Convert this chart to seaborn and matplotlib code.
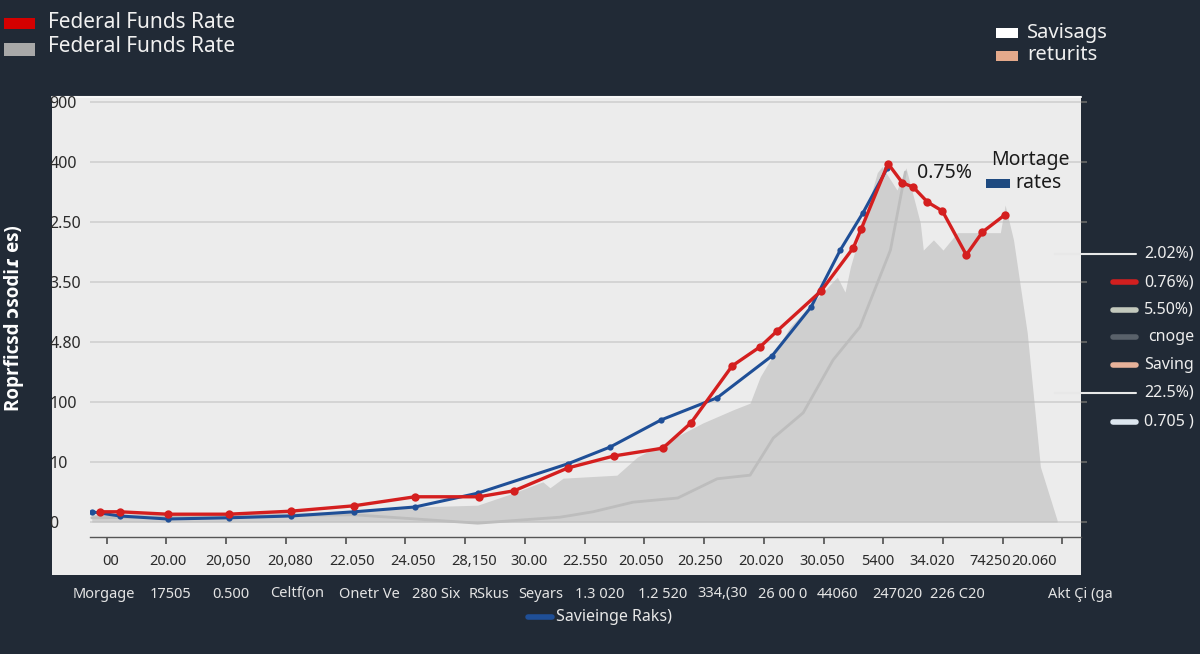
import numpy as np
import pandas as pd
import matplotlib
matplotlib.use("Agg")
import matplotlib.pyplot as plt
import matplotlib.transforms as mtransforms
from matplotlib.patches import Rectangle
from matplotlib.lines import Line2D
import seaborn as sns

# --- data (x = period index, y = tick step) ---
fed_x = [-0.12, 0.22, 1.02, 2.04, 3.08, 4.14, 5.16, 6.23, 6.82, 7.72, 8.49, 9.31, 9.78,
         10.47, 10.94, 11.22, 11.96, 12.50, 12.63, 13.08, 13.32, 13.50, 13.74, 13.99,
         14.39, 14.66, 15.04]
fed_y = [0.17, 0.17, 0.13, 0.13, 0.18, 0.27, 0.42, 0.42, 0.52, 0.90, 1.10, 1.23, 1.65,
         2.60, 2.92, 3.18, 3.85, 4.57, 4.88, 5.97, 5.65, 5.58, 5.33, 5.18,
         4.45, 4.83, 5.12]

mort_x = [-0.25, 0.22, 1.02, 2.04, 3.08, 4.14, 5.16, 6.21, 7.72, 8.43, 9.28, 10.22,
          11.14, 11.79, 12.28, 12.66, 13.07]
mort_y = [0.17, 0.10, 0.05, 0.07, 0.10, 0.17, 0.25, 0.48, 0.97, 1.25, 1.70, 2.07,
          2.77, 3.58, 4.53, 5.15, 5.90]

sav_x = [-0.25, 4.14, 5.16, 6.21, 6.80, 7.30, 7.42, 7.64, 8.54, 8.88, 9.98, 10.49,
         10.77, 10.94, 11.44, 12.23, 12.36, 12.45, 12.90, 12.98, 13.23, 13.38, 13.62,
         13.67, 13.84, 14.00, 14.24, 14.96, 15.04, 15.18, 15.41, 15.63, 15.91]
sav_y = [0.13, 0.17, 0.25, 0.28, 0.48, 0.67, 0.57, 0.73, 0.78, 1.08, 1.65, 1.87,
         1.98, 2.42, 3.25, 4.08, 3.83, 4.25, 5.82, 5.92, 5.53, 5.90, 4.98,
         4.53, 4.70, 4.53, 4.82, 4.82, 5.28, 4.70, 3.15, 0.92, 0.03]

ret_x = [-0.25, 4.14, 6.21, 7.59, 8.14, 8.81, 9.56, 10.22, 10.77, 11.16, 11.66, 12.16,
         12.61, 13.12, 13.37]
ret_y = [0.07, 0.12, -0.02, 0.08, 0.17, 0.33, 0.40, 0.72, 0.78, 1.40, 1.82, 2.70,
         3.25, 4.53, 5.83]

ytick_labels = ["0", "10", "100", "4.80", "3.50", "2.50", "400", "900"]
xtick_labels = ["00", "20.00", "20,050", "20,080", "22.050", "24.050", "28,150", "30.00",
                "22.550", "20.050", "20.250", "20.020", "30.050", "5400", "34.020",
                "74250", "20.060"]
xtick_label_pos = [0.07, 1.02, 2.03, 3.07, 4.10, 5.13, 6.15, 7.07, 8.01, 8.94, 9.93,
                   10.95, 11.98, 12.90, 13.82, 14.79, 15.53]
row2_labels = ["Morgage", "17505", "0.500", "Celtf(on", "Onetr Ve", "280 Six", "RSkus",
               "Seyars", "1.3 020", "1.2 520", "334,(30", "26 00 0", "44060", "247020",
               "226 C20", "Akt Çi (ga"]
row2_pos = [-0.05, 1.06, 2.08, 3.18, 4.39, 5.51, 6.40, 7.27, 8.26, 9.30, 10.30, 11.32,
            12.24, 13.23, 14.24, 16.30]
side_labels = ["2.02%)", "0.76%)", "5.50%)", "cnoge", "Saving", "22.5%)", "0.705 )"]
side_colors = [None, "#d21f1f", "#c3c9bd", "#59616a", "#e7b29a", None, "#dde6ef"]

BG = "#212a36"
PANEL = "#ececec"
RED = "#d41f1f"
BLUE = "#1f4f97"

sns.set_theme(style="white")
plt.rcParams["font.family"] = ["Noto Sans", "DejaVu Sans"]

W, H = 1200, 654
fig = plt.figure(figsize=(12, 6.54), dpi=100, facecolor=BG)


def fx(px):
    return px / W


def fy(py):
    return 1 - py / H


# light panel behind plot + tick label strip
fig.add_artist(Rectangle((fx(52), fy(575)), fx(1081 - 52), (575 - 96) / H,
                         transform=fig.transFigure, facecolor=PANEL,
                         edgecolor="none", zorder=-1))
fig.add_artist(Line2D([fx(52), fx(1081)], [fy(97), fy(97)], transform=fig.transFigure,
                      color="#f7f7f7", lw=1.5, zorder=-0.5))

ax = fig.add_axes([fx(90), fy(537), fx(1081 - 90), (537 - 100) / H])
ax.set_facecolor(PANEL)

ax.fill_between(sav_x, 0, sav_y, color="#cfcfcf", lw=0, zorder=1)
sns.lineplot(x=ret_x, y=ret_y, color="#bdbdbd", lw=2, sort=False, estimator=None,
             ax=ax, zorder=2)
sns.lineplot(x=mort_x, y=mort_y, color=BLUE, lw=2.2, marker="o", markersize=4.5,
             markeredgewidth=0, sort=False, estimator=None, ax=ax, zorder=4)
sns.lineplot(x=fed_x, y=fed_y, color=RED, lw=2.4, marker="o", markersize=6,
             markeredgewidth=0, sort=False, estimator=None, ax=ax, zorder=5)

ax.set_xlim(-0.28, 16.31)
ax.set_ylim(-0.25, 7.03)
ax.set_axisbelow("line")
ax.set_yticks(range(len(ytick_labels)))
ax.set_yticklabels(ytick_labels)
ax.yaxis.grid(True, color="#bdbdbd", alpha=0.6, lw=1.2)
ax.xaxis.grid(False)
ax.tick_params(axis="y", left=False, right=True, length=4, color="#666666", pad=25,
               labelsize=11.5, labelcolor="#2a2a2a")
for lbl in ax.get_yticklabels():
    lbl.set_ha("left")

ax.set_xticks(range(17))
ax.set_xticklabels([])
ax.set_xticks(xtick_label_pos, minor=True)
ax.set_xticklabels(xtick_labels, minor=True)
ax.tick_params(axis="x", which="major", bottom=True, length=5, color="#555555")
ax.tick_params(axis="x", which="minor", bottom=True, length=0, pad=12,
               labelsize=10.5, labelcolor="#2a2a2a")
for s in ["top", "right", "left"]:
    ax.spines[s].set_visible(False)
ax.spines["bottom"].set_color("#555555")
ax.spines["bottom"].set_linewidth(1)
ax.set_xlabel("")
ax.set_ylabel("")

# second row of category labels below the strip
tr = mtransforms.blended_transform_factory(ax.transData, fig.transFigure)
for lab, pos in zip(row2_labels, row2_pos):
    fig.text(pos, fy(594), lab, transform=tr, ha="center", va="center",
             fontsize=10.5, color="#e4e4e4")

# y axis title
fig.text(fx(14), fy(318), "Roprficsd ɔsodiɾ es)", rotation=90, ha="center",
         va="center", fontsize=13.5, fontweight="bold", color="white",
         family=["Open Sans", "DejaVu Sans"])

# top-left legend
for (y0, y1), col, ty in [((18, 29), "#d40000", 23), ((43, 56), "#a8a8a8", 47)]:
    fig.add_artist(Rectangle((fx(4), fy(y1)), fx(31), (y1 - y0) / H,
                             transform=fig.transFigure, facecolor=col, edgecolor="none"))
    fig.text(fx(48), fy(ty), "Federal Funds Rate", ha="left", va="center",
             fontsize=15, color="#f0f0f0")

# top-right legend
for (y0, y1), col, ty, lab in [((28, 38), "#ffffff", 33, "Savisags"),
                               ((51, 61), "#e4a98b", 55, "returits")]:
    fig.add_artist(Rectangle((fx(996), fy(y1)), fx(22), (y1 - y0) / H,
                             transform=fig.transFigure, facecolor=col, edgecolor="none"))
    fig.text(fx(1027), fy(ty), lab, ha="left", va="center", fontsize=14.5,
             color="#f0f0f0")

# in-plot annotations
fig.text(fx(945), fy(173), "0.75%", ha="center", va="center", fontsize=14, color="#1a1a1a")
fig.text(fx(1030), fy(160), "Mortage", ha="center", va="center", fontsize=14,
         color="#1a1a1a")
fig.add_artist(Rectangle((fx(986), fy(188)), fx(24), 9 / H, transform=fig.transFigure,
                         facecolor="#1e4a80", edgecolor="none"))
fig.text(fx(1015), fy(183), "rates", ha="left", va="center", fontsize=14, color="#1a1a1a")

# right-hand legend column
side_y = [254, 282, 310, 337, 365, 393, 422]
for lab, col, py in zip(side_labels, side_colors, side_y):
    if col is None:
        fig.add_artist(Line2D([fx(1055), fx(1136)], [fy(py), fy(py)],
                              transform=fig.transFigure, color="#e8e8e8", lw=1.5))
    else:
        fig.add_artist(Line2D([fx(1113), fx(1136)], [fy(py), fy(py)],
                              transform=fig.transFigure, color=col, lw=4))
    fig.text(fx(1194), fy(py), lab, ha="right", va="center", fontsize=11.5,
             color="#eeeeee")

# bottom legend
fig.add_artist(Line2D([fx(528), fx(552)], [fy(617), fy(617)], transform=fig.transFigure,
                      color=BLUE, lw=4))
fig.text(fx(556), fy(617), "Savieinge Raks)", ha="left", va="center", fontsize=11.5,
         color="#e8e8e8")

fig.savefig("out.png", dpi=100, facecolor=BG)
